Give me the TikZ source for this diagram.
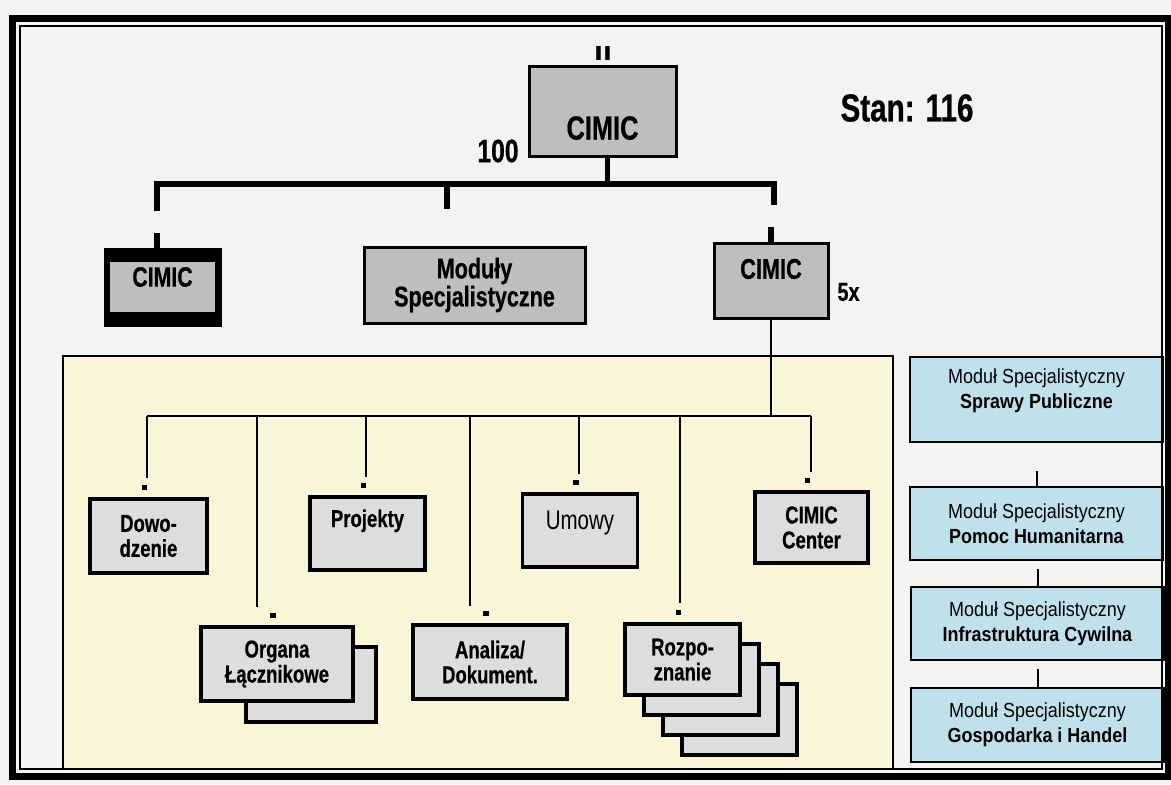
\documentclass[tikz,border=0pt]{standalone}
\usepackage{fontspec}
\setmainfont{Liberation Sans}
\newfontfamily\narrowsans{Liberation Sans}[FakeStretch=0.76,BoldFeatures={FakeBold=0.6}]
\newfontfamily\modsans{Liberation Sans}[FakeStretch=0.88]
\newfontfamily\barfont{DejaVu Sans}
\usetikzlibrary{positioning}

\definecolor{pagebg}{RGB}{243,243,241}
\definecolor{paleyellow}{RGB}{248,246,215}
\definecolor{boxgray}{RGB}{190,190,190}
\definecolor{treegray}{RGB}{221,221,221}
\definecolor{paleblue}{RGB}{191,225,235}

\begin{document}
\begin{tikzpicture}[x=0.5pt,y=-0.5pt,
  unitbox/.style={draw,line width=1.5pt,fill=boxgray,inner sep=0pt,align=center},
  treebox/.style={draw,line width=1.7pt,fill=treegray,inner sep=0pt,align=center,
    minimum width=57.5pt,minimum height=36.5pt,
    font=\narrowsans\bfseries\fontsize{12.2}{12.5}\selectfont},
  modbox/.style={draw,line width=1.4pt,fill=paleblue,inner sep=0pt,align=center,
    minimum width=126.5pt,minimum height=36.5pt,font=\modsans\fontsize{10.2}{12.5}\selectfont},
  dogear/.style={path picture={\fill (path picture bounding box.south east)
    -- ++(-9.5pt,0pt) -- ++(9.5pt,9.5pt) -- cycle;}},
  boldlbl/.style={inner sep=0pt,font=\narrowsans\bfseries\fontsize{#1}{#1}\selectfont},
  link/.style={line width=1pt},
  bus/.style={line width=2.6pt},
  dot/.style={fill,inner sep=0pt,minimum size=2.6pt}
]

% Page
\fill[pagebg] (0,0) rectangle (1171,784);
\useasboundingbox (0,0) rectangle (1171,784);

% Yellow area
\draw[line width=0.8pt,fill=paleyellow] (63,356) rectangle (893,769);

% Top unit
\node[unitbox,minimum width=73.5pt,minimum height=45pt] (top) at (602.5,111) {};
\node[boldlbl=16.7] (top-lbl) at (602.5,128) {CIMIC};
\node[inner sep=0pt,font=\barfont\bfseries\fontsize{12}{12}\selectfont] (top-size) at (603,53) {\scalebox{1}[0.8]{II}};
\node[boldlbl=19.5] (strength) at (907,108) {Stan: 116};
\node[boldlbl=16.2] (top-count) at (498,151) {100};

% Upper bus
\coordinate (bus-l) at (157,184);
\coordinate (bus-m) at (447,184);
\coordinate (bus-r) at (774,184);
\draw[bus] ([xshift=2.5pt]top.south) -- ([xshift=2.5pt]top.south |- bus-l);
\draw[bus] ([yshift=-13.5pt]bus-l) -- (bus-l) -- (bus-r) -- ([yshift=-10.5pt]bus-r);
\draw[bus] (bus-m) -- ++(0,25);

% Second row
\node[fill=black,inner sep=0pt,minimum width=59pt,minimum height=39.5pt] (dark) at (163,287.5) {};
\node[fill=boxgray,inner sep=0pt,minimum width=52.5pt,minimum height=25pt] (dark-in) at (162.5,287) {};
\node[boldlbl=14] (dark-lbl) at (162.5,277) {CIMIC};
\node[unitbox,minimum width=110.5pt,minimum height=38pt,
  font=\narrowsans\bfseries\fontsize{14.2}{14}\selectfont] (modules) at (474.5,285) {Moduły\\Specjalistyczne};
\node[unitbox,minimum width=57pt,minimum height=37.5pt] (rc) at (771,280.5) {};
\node[boldlbl=14.3] (rc-lbl) at (771,269) {CIMIC};
\node[boldlbl=13] (rc-count) at (848.5,292) {5x};
\draw[bus] (dark.north -| bus-l) -- ++(0,-15);
\draw[bus] (rc.north) -- ++(0,-15);

% Tree inside the yellow area
\coordinate (tbus-l) at (147,416);
\coordinate (tbus-r) at (811,416);
\draw[link] (rc.south) -- (rc.south |- tbus-l);
\draw[link] (tbus-l) -- (tbus-r);
\foreach \nm/\x/\y in {dowo/147/478,organa/257/607,proj/366/477,analiza/470/606,
                       umowy/579/474,rozp/680/603,ccenter/811/472}{
  \coordinate (\nm-end) at (\x,\y);
  \draw[link] (\nm-end |- tbus-l) -- (\nm-end);
}

\node[treebox,minimum width=58.5pt,minimum height=37pt] (dowo) at (148.5,536) {Dowo-\\dzenie};
\node[treebox] (proj) at (367.5,533.5) {};
\node[boldlbl=12.2,anchor=base] (proj-lbl) at (367.5,527) {Projekty};
\node[treebox,dogear] (umowy) at (580,530.5) {};
\node[inner sep=0pt,anchor=base,font=\narrowsans\fontsize{13.5}{13.5}\selectfont] (umowy-lbl) at (580,529.5) {Umowy};
\node[treebox,minimum width=56.5pt,minimum height=35.5pt] (ccenter) at (811.5,527.5) {CIMIC\\Center};

\node[treebox,minimum width=65pt,minimum height=37.5pt] (organa-back) at (311,684.5) {};
\node[treebox,minimum width=76pt,minimum height=37pt] (organa) at (277,664) {Organa\\Łącznikowe};
\node[treebox,minimum width=77pt,minimum height=37pt] (analiza) at (490,662) {Analiza/\\Dokument.};

\node[treebox,dogear,minimum height=35.5pt] (rozp-4) at (739.5,719.5) {};
\node[treebox,minimum height=35.5pt] (rozp-3) at (720.5,699.5) {};
\node[treebox,minimum height=35.5pt] (rozp-2) at (701.5,679.5) {};
\node[treebox,minimum height=35.5pt] (rozp) at (682.5,659.5) {Rozpo-\\znanie};

\foreach \b in {dowo,proj,umowy,ccenter,organa,analiza,rozp}
  \node[dot,above=3.5pt of \b,xshift=-2pt] (\b-dot) {};

% Specialist modules
\node[modbox,dogear,minimum height=42.5pt] (mod-1) at (1036.5,399.5) {};
\node[inner sep=0pt,align=center,font=\modsans\fontsize{10.2}{12.5}\selectfont] (mod-1-lbl) at (1036.5,391)
  {Moduł Specjalistyczny\\\textbf{Sprawy Publiczne}};
\node[modbox,dogear] (mod-2) at (1036.5,523.5) {Moduł Specjalistyczny\\\textbf{Pomoc Humanitarna}};
\node[modbox,dogear] (mod-3) at (1037.5,623.5) {Moduł Specjalistyczny\\\textbf{Infrastruktura Cywilna}};
\node[modbox,dogear,minimum height=37pt] (mod-4) at (1037.5,725) {Moduł Specjalistyczny\\\textbf{Gospodarka i Handel}};
\foreach \m/\h in {2/15,3/17,4/18}
  \draw[link] (mod-\m.north) -- ++(0,-\h);

% Frame
\draw[line width=3.5pt] (12,18.5) rectangle (1168,776);
\draw[line width=0.75pt] (20,26) rectangle (1162,769);

\end{tikzpicture}
\end{document}
